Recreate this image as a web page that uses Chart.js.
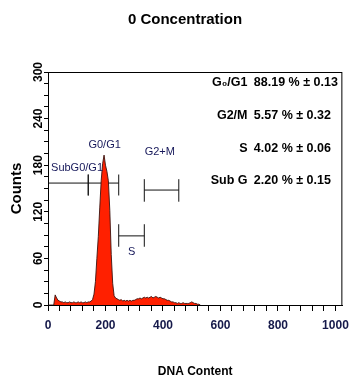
<!DOCTYPE html>
<html>
<head>
<meta charset="utf-8">
<script src="https://cdn.jsdelivr.net/npm/chart.js@4.4.0/dist/chart.umd.min.js"></script>
<style>
  body { margin: 0; background: #fff; }
  #wrap { width: 356px; height: 379px; }
</style>
</head>
<body>
<div id="wrap"><canvas id="DnaChart"></canvas></div>
<script>
// DNA histogram (0 Concentration)
var channels = [0, 5, 10, 15, 20, 25, 30, 35, 40, 45, 50, 55, 60, 65, 70, 75, 80, 85, 90, 95,
  100, 105, 110, 115, 120, 125, 130, 135, 140, 145, 150, 155, 160, 165, 170, 175, 180, 185, 190, 195,
  200, 205, 210, 215, 220, 225, 230, 235, 240, 245, 250, 255, 260, 265, 270, 275, 280, 285, 290, 295,
  300, 305, 310, 315, 320, 325, 330, 335, 340, 345, 350, 355, 360, 365, 370, 375, 380, 385, 390, 395,
  400, 405, 410, 415, 420, 425, 430, 435, 440, 445, 450, 455, 460, 465, 470, 475, 480, 485, 490, 495,
  500, 505, 510, 515, 520, 525, 530];
var counts = [0, 0, 0, 0, 0, 13, 9, 6, 5, 4, 4, 3, 4, 3, 3, 4, 3, 3, 4, 3,
  3, 4, 3, 4, 3, 3, 4, 3, 4, 4, 5, 7, 14, 30, 60, 88, 125, 160, 182, 193,
  180, 172, 160, 122, 65, 28, 12, 9, 8, 7, 6, 7, 5, 6, 5, 6, 5, 6, 5, 6,
  6, 7, 8, 8, 9, 8, 9, 10, 9, 10, 9, 10, 11, 9, 10, 11, 10, 9, 10, 9,
  8, 8, 7, 6, 6, 5, 4, 4, 3, 3, 2, 3, 2, 2, 3, 2, 2, 2, 2, 3,
  4, 3, 2, 2, 1, 1, 0];

// gates: name, from, to, level, tick low, tick high
var gateNames = ['SubG0/G1', 'G0/G1', 'S', 'G2+M'];
var gateFrom  = [0, 140, 246, 335];
var gateTo    = [140, 246, 335, 455];
var gateLevel = [157, 157, 89, 148];
var gateLow   = [141, 141, 75, 133];
var gateHigh  = [168, 168, 104, 162];
// gate label anchors (data units)
var labelX = [101, 197, 291, 389];
var labelY = [176, 206, 68, 197];

var statNames  = ['G\u2080/G1', 'G2/M', 'S', 'Sub G'];
var statValues = ['88.19 % \u00b1 0.13', '5.57 % \u00b1 0.32', '4.02 % \u00b1 0.06', '2.20 % \u00b1 0.15'];
var statY = [287, 244, 202, 160];

var FONT = "'Liberation Sans', Arial, sans-serif";

var histData = channels.map(function (c, i) { return {x: c, y: counts[i]}; });

var datasets = [{
  data: histData,
  backgroundColor: '#ff2000',
  borderColor: 'rgba(60, 20, 15, 0.9)',
  borderWidth: 1,
  fill: 'origin',
  pointRadius: 0,
  tension: 0
}];
for (var g = 0; g < gateNames.length; g++) {
  var segs = [
    [{x: gateFrom[g], y: gateLevel[g]}, {x: gateTo[g], y: gateLevel[g]}],
    [{x: gateFrom[g], y: gateLow[g]}, {x: gateFrom[g], y: gateHigh[g]}],
    [{x: gateTo[g], y: gateLow[g]}, {x: gateTo[g], y: gateHigh[g]}]
  ];
  segs.forEach(function (s) {
    datasets.push({data: s, borderColor: '#111', borderWidth: 1, pointRadius: 0, fill: false});
  });
}

var textPlugin = {
  id: 'texts',
  afterDraw: function (chart) {
    var c = chart.ctx, xs = chart.scales.x, ys = chart.scales.y, a = chart.chartArea;
    c.save();
    c.strokeStyle = '#000';
    c.lineWidth = 1;
    c.strokeRect(a.left + 0.5, a.top + 0.5, a.right - a.left - 1, a.bottom - a.top);
    c.textAlign = 'center';
    c.textBaseline = 'middle';
    c.fillStyle = '#16185a';
    c.font = '11px ' + FONT;
    for (var i = 0; i < gateNames.length; i++) {
      c.fillText(gateNames[i], xs.getPixelForValue(labelX[i]), ys.getPixelForValue(labelY[i]));
    }
    c.fillStyle = '#000';
    c.font = 'bold 12.5px ' + FONT;
    for (var j = 0; j < statNames.length; j++) {
      var py = ys.getPixelForValue(statY[j]);
      c.textAlign = 'right';
      c.fillText(statNames[j], xs.getPixelForValue(694), py);
      c.textAlign = 'left';
      c.fillText(statValues[j], xs.getPixelForValue(716), py);
    }
    c.restore();
  }
};

var ctx = document.getElementById('DnaChart').getContext('2d');
var myChart = new Chart(ctx, {
  type: 'line',
  data: { datasets: datasets },
  options: {
    responsive: true,
    maintainAspectRatio: false,
    animation: false,
    layout: { padding: { left: 22, right: 8, top: 0, bottom: 0 } },
    plugins: {
      legend: { display: false },
      tooltip: { enabled: false },
      title: {
        display: true,
        text: '0 Concentration',
        color: '#000',
        font: { family: FONT, size: 15, weight: 'bold' },
        padding: { top: 11, bottom: 43 }
      }
    },
    scales: {
      x: {
        type: 'linear',
        min: 0,
        max: 1024,
        grid: { drawOnChartArea: false, tickLength: 6, tickColor: '#000' },
        border: { color: '#000', width: 1 },
        ticks: {
          stepSize: 40,
          autoSkip: false,
          includeBounds: false,
          maxRotation: 0,
          padding: 7,
          color: '#15194a',
          font: { family: FONT, size: 12, weight: 'bold' },
          callback: function (v) { return v % 200 === 0 ? v : ''; }
        },
        title: {
          display: true,
          text: 'DNA Content',
          color: '#000',
          font: { family: FONT, size: 12, weight: 'bold' },
          padding: { top: 0, bottom: 0 }
        },
        afterFit: function (s) { s.height = 74; }
      },
      y: {
        min: 0,
        max: 300,
        grid: { drawOnChartArea: false, tickLength: 4, tickColor: '#000' },
        border: { color: '#000', width: 1 },
        ticks: {
          stepSize: 15,
          autoSkip: false,
          minRotation: 90,
          maxRotation: 90,
          crossAlign: 'center',
          padding: -5,
          color: '#000',
          font: { family: FONT, size: 12, weight: 'bold' },
          callback: function (v) { return v % 60 === 0 ? v : ''; }
        },
        title: {
          display: true,
          text: 'Counts',
          color: '#000',
          font: { family: FONT, size: 15, weight: 'bold' },
          padding: { top: -14, bottom: 0 }
        },
        afterFit: function (s) { s.width = 26; }
      }
    }
  },
  plugins: [textPlugin]
});
</script>
</body>
</html>
